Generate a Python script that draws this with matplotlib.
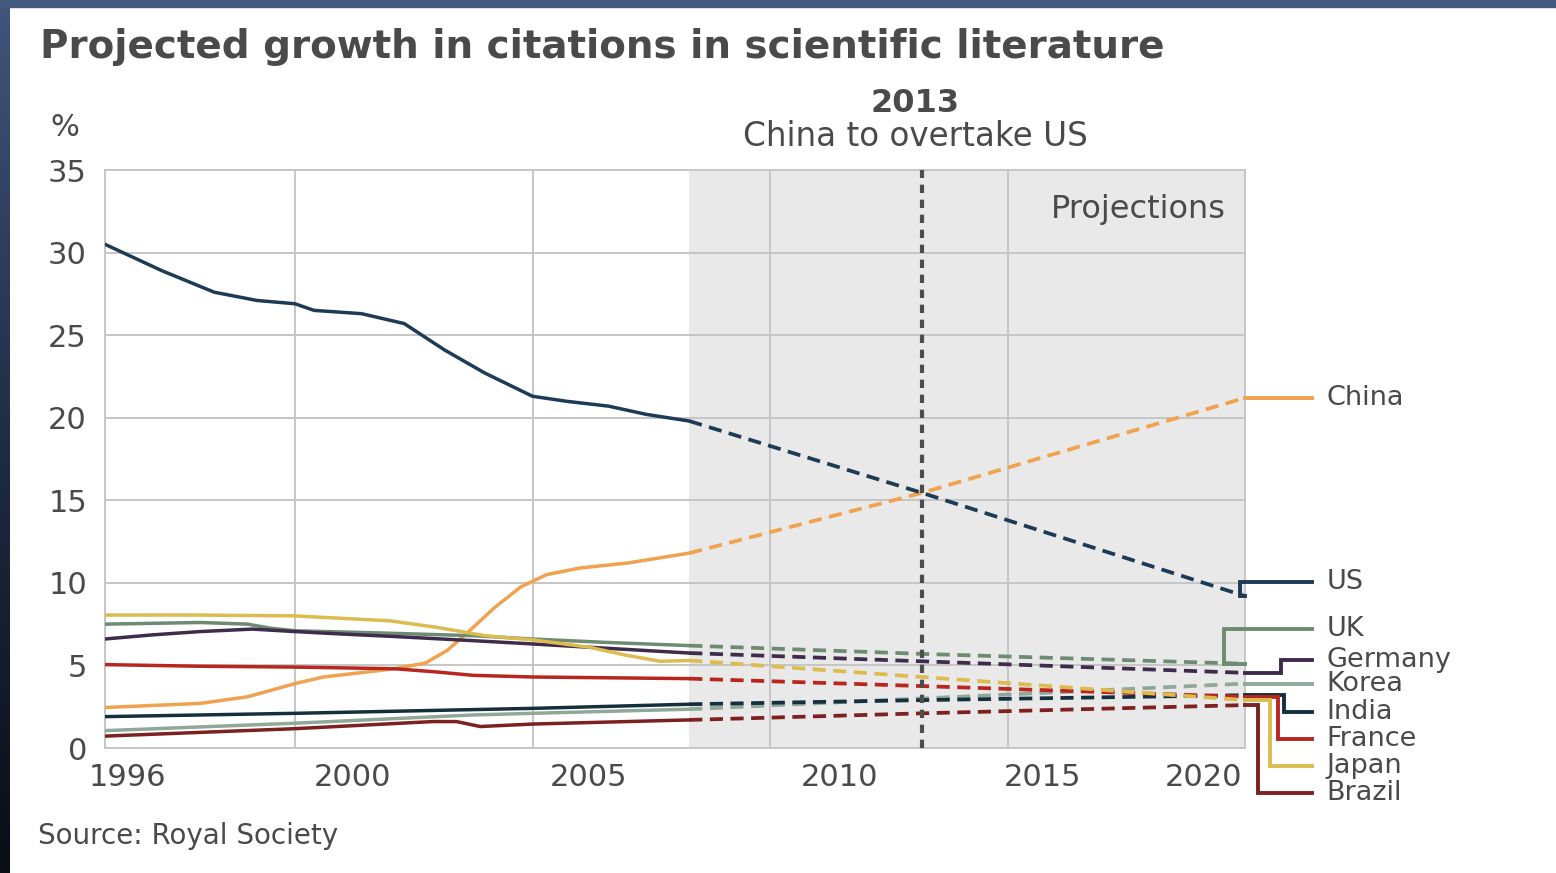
import numpy as np
import matplotlib
matplotlib.use("Agg")
import matplotlib.pyplot as plt
from matplotlib.colors import LinearSegmentedColormap

plt.rcParams['font.family'] = ['DejaVu Sans']

# ---- data (% share of citations) ----
countries = ["China", "US", "UK", "Germany", "Korea", "India", "France", "Japan", "Brazil"]

china_years = [1996, 1998, 1999, 2000, 2000.6, 2002.1, 2002.75, 2003.2, 2003.6, 2004.2,
               2004.75, 2005.3, 2006, 2007, 2008.3]
china_vals = [2.45, 2.7, 3.1, 3.9, 4.3, 4.8, 5.15, 5.9, 6.9, 8.5,
              9.75, 10.5, 10.9, 11.2, 11.8]

us_years = [1996, 1997.2, 1998.3, 1999.2, 2000, 2000.4, 2001.4, 2002.3, 2003.15, 2004,
            2005, 2005.7, 2006.6, 2007.4, 2008.3]
us_vals = [30.5, 28.9, 27.6, 27.1, 26.9, 26.5, 26.3, 25.7, 24.1, 22.7,
           21.3, 21.0, 20.7, 20.2, 19.8]

uk_years = [1996, 1998, 1999, 1999.5, 2000, 2002, 2003.75, 2005, 2006.5, 2008.3]
uk_vals = [7.5, 7.6, 7.5, 7.25, 7.1, 6.95, 6.8, 6.6, 6.4, 6.2]

germany_years = [1996, 1997, 1998, 1999.1, 2000, 2001, 2002.1, 2003.75, 2005, 2006.2, 2008.3]
germany_vals = [6.6, 6.85, 7.05, 7.2, 7.05, 6.9, 6.75, 6.5, 6.3, 6.1, 5.75]

korea_years = [1996, 2000, 2003.75, 2005, 2008.3]
korea_vals = [1.05, 1.5, 2.0, 2.1, 2.35]

india_years = [1996, 2000, 2005, 2008.3]
india_vals = [1.9, 2.1, 2.4, 2.65]

france_years = [1996, 1998, 2000, 2002.1, 2003, 2003.75, 2005, 2008.3]
france_vals = [5.05, 4.95, 4.9, 4.8, 4.6, 4.4, 4.3, 4.2]

japan_years = [1996, 1998, 2000, 2002, 2003, 2004, 2005, 2006.2, 2007, 2007.7, 2008.3]
japan_vals = [8.05, 8.05, 8.0, 7.7, 7.3, 6.8, 6.55, 6.1, 5.6, 5.25, 5.3]

brazil_years = [1996, 2000, 2002.9, 2003.4, 2003.9, 2005, 2008.3]
brazil_vals = [0.72, 1.17, 1.6, 1.6, 1.3, 1.45, 1.7]

# projections (dashed)
proj_years = [2008.3, 2013.2, 2020]
proj_china = [11.8, 15.45, 21.2]
proj_us = [19.8, 15.45, 9.2]
proj_uk = [6.2, 5.7, 5.1]
proj_germany = [5.75, 5.25, 4.55]
proj_korea = [2.35, 3.0, 3.9]
proj_india = [2.65, 2.9, 3.2]
proj_france = [4.2, 3.75, 3.1]
proj_japan = [5.3, 4.3, 2.9]
proj_brazil = [1.7, 2.1, 2.6]

overtake_year = 2013.2
projection_start = 2008.3

xtick_grid = [1996, 2000, 2005, 2010, 2015, 2020]
xtick_labels = ["1996", "2000", "2005", "2010", "2015", "2020"]
xtick_label_pos = [1996.48, 2001.22, 2006.17, 2011.47, 2015.73, 2019.12]
yticks = [0, 5, 10, 15, 20, 25, 30, 35]

# ---- styling ----
colours = {"China": "#f0a24e", "US": "#1d3b55", "UK": "#6d8b73", "Germany": "#3f2c4c",
           "Korea": "#8fa898", "India": "#15303d", "France": "#b8261f",
           "Japan": "#dcbc4e", "Brazil": "#7c2020"}
history = {"China": (china_years, china_vals), "US": (us_years, us_vals),
           "UK": (uk_years, uk_vals), "Germany": (germany_years, germany_vals),
           "Korea": (korea_years, korea_vals), "India": (india_years, india_vals),
           "France": (france_years, france_vals), "Japan": (japan_years, japan_vals),
           "Brazil": (brazil_years, brazil_vals)}
projection = {"China": proj_china, "US": proj_us, "UK": proj_uk, "Germany": proj_germany,
              "Korea": proj_korea, "India": proj_india, "France": proj_france,
              "Japan": proj_japan, "Brazil": proj_brazil}

# leader lines: x of the vertical step and y of the label
leader_x = {"China": 2020, "US": 2019.9, "UK": 2019.55, "Germany": 2020.75, "Korea": 2020,
            "India": 2020.82, "France": 2020.7, "Japan": 2020.52, "Brazil": 2020.28}
label_y = {"China": 21.2, "US": 10.05, "UK": 7.2, "Germany": 5.3, "Korea": 3.9,
           "India": 2.2, "France": 0.55, "Japan": -1.1, "Brazil": -2.75}
leader_end = 2021.42
text_grey = "#4a4a4a"

fig = plt.figure(figsize=(15.56, 8.73), dpi=100)
fig.patch.set_facecolor("white")

# dark frame (top strip + left gradient strip)
fig.patches.append(plt.Rectangle((0, 1 - 7 / 873), 1, 7 / 873, transform=fig.transFigure,
                                 color="#43587e", zorder=0))
bax = fig.add_axes([0, 0, 10 / 1556, 1 - 7 / 873])
grad = LinearSegmentedColormap.from_list("frame", ["#40557b", "#1f2c44", "#0a0d14"])
bax.imshow(np.linspace(0, 1, 200).reshape(-1, 1), aspect="auto", cmap=grad)
bax.axis("off")

ax = fig.add_axes([105 / 1556, 1 - 748 / 873, (1245 - 105) / 1556, (748 - 170) / 873])
ax.set_xlim(1996, 2020)
ax.set_ylim(0, 35)

ax.axvspan(projection_start, 2020, color="#e9e9e9", lw=0, zorder=0)

ax.set_xticks(xtick_label_pos, xtick_labels)
ax.set_xticks(xtick_grid, minor=True)
ax.set_yticks(yticks)
ax.tick_params(which="both", length=0, colors=text_grey, labelsize=22)
ax.tick_params(axis="y", pad=13)
ax.tick_params(axis="x", pad=11)
ax.grid(which="minor", axis="x", color="#c6c6c6", lw=1.4, zorder=1)
ax.grid(which="major", axis="y", color="#c6c6c6", lw=1.4, zorder=1)
for s in ax.spines.values():
    s.set_color("#c6c6c6")
    s.set_linewidth(1.4)

ax.axvline(overtake_year, color="#4d4d4d", lw=3, ls=(0, (2, 1.6)), zorder=5)

for c in countries:
    yrs, vals = history[c]
    ax.plot(yrs, vals, color=colours[c], lw=2.5, zorder=4, solid_capstyle="round")
    ax.plot(proj_years, projection[c], color=colours[c], lw=2.7, ls=(0, (3.5, 2)), zorder=4)
    end = projection[c][-1]
    ax.plot([2020, leader_x[c], leader_x[c], leader_end],
            [end, end, label_y[c], label_y[c]],
            color=colours[c], lw=2.8, clip_on=False, zorder=6, solid_joinstyle="miter")
    ax.text(leader_end + 0.3, label_y[c], c, fontsize=19.5, color=text_grey,
            va="center", ha="left", clip_on=False)

ax.text(2019.6, 32.6, "Projections", fontsize=23, color=text_grey, ha="right", va="center")

fig.text(40 / 1556, 1 - 47 / 873, "Projected growth in citations in scientific literature",
         fontsize=28, fontweight="bold", color=text_grey, ha="left", va="center")
fig.text(915 / 1556, 1 - 103 / 873, "2013", fontsize=23, fontweight="bold",
         color=text_grey, ha="center", va="center")
fig.text(915 / 1556, 1 - 137 / 873, "China to overtake US", fontsize=23.5,
         color=text_grey, ha="center", va="center")
fig.text(65 / 1556, 1 - 128 / 873, "%", fontsize=22, color=text_grey, ha="center", va="center")
fig.text(38 / 1556, 1 - 836 / 873, "Source: Royal Society", fontsize=20,
         color=text_grey, ha="left", va="center")

fig.savefig("out.png", dpi=100)
